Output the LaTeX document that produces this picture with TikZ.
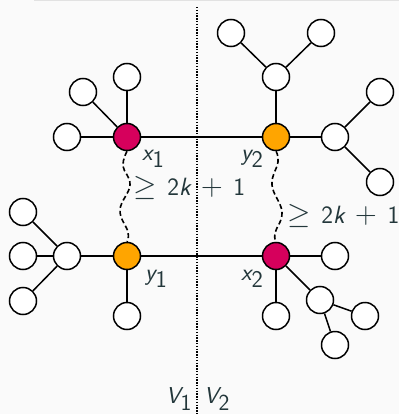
\RequirePackage{fix-cm}
\documentclass[tikz,border=0pt]{standalone}
\usepackage{fontspec}
\definecolor{bgc}{RGB}{250,250,250}
\definecolor{rulec}{RGB}{226,226,226}
\definecolor{txtc}{RGB}{35,55,59}
\definecolor{magc}{RGB}{214,0,92}
\definecolor{orc}{RGB}{255,165,0}
\newcommand\sv[1]{\mbox{\sffamily\itshape #1}}
\newcommand\sn[1]{\mbox{\sffamily #1}}
\newcommand\lt[1]{\mbox{\fontsize{25}{30}\selectfont\sffamily #1}}
\newcommand\glabel{$\geq\hspace{2pt} \lt{2\itshape k}\hspace{4pt} + \hspace{4pt}\lt{1}$}
\begin{document}
\begin{tikzpicture}[x=1pt,y=-1pt,
  vtx/.style={circle,draw=black,line width=1.5pt,fill=white,minimum size=27pt,inner sep=0pt},
  mvtx/.style={vtx,fill=magc},
  ovtx/.style={vtx,fill=orc},
  edge/.style={line width=1.5pt,black},
  wav/.style={line width=1.6pt,black,dash pattern=on 5pt off 3pt},
  lbl/.style={text=txtc,inner sep=0pt,anchor=base west,font=\fontsize{24}{28}\selectfont\sffamily},
  blbl/.style={lbl,font=\fontsize{30}{34}\selectfont\sffamily},
  vlbl/.style={lbl,font=\fontsize{23}{27}\selectfont\sffamily}]
\fill[bgc] (0,0) rectangle (399,414);
\useasboundingbox (0,0) rectangle (399,414);
\draw[rulec,line width=1pt] (34,0.5) -- (399,0.5);
\coordinate (dt) at (197,7);
\coordinate (db) at (197,414);
\draw[black,line width=1.6pt,dash pattern=on 1.4pt off 1.4pt] (dt) -- (db);
% main vertices
\node[mvtx] (x1) at (127,137) {};
\node[ovtx] (y2) at (276,137) {};
\node[ovtx] (y1) at (127,256) {};
\node[mvtx] (x2) at (276,256) {};
% x1 leaves
\node[vtx] (a1) at (67,137) {};
\node[vtx] (a2) at (83,92) {};
\node[vtx] (a3) at (127,77) {};
% y2 subtree
\node[vtx] (b1) at (276,77) {};
\node[vtx] (b11) at (231,33) {};
\node[vtx] (b12) at (321,33) {};
\node[vtx] (b2) at (335,137) {};
\node[vtx] (b21) at (380,92) {};
\node[vtx] (b22) at (380,182) {};
% y1 subtree
\node[vtx] (c1) at (67,256) {};
\node[vtx] (c11) at (23,212) {};
\node[vtx] (c12) at (23,256) {};
\node[vtx] (c13) at (23,301) {};
\node[vtx] (c2) at (127,316) {};
% x2 subtree
\node[vtx] (d1) at (335,256) {};
\node[vtx] (d2) at (276,316) {};
\node[vtx] (d3) at (320,300) {};
\node[vtx] (d31) at (365,316) {};
\node[vtx] (d32) at (335,345) {};
% edges
\draw[edge] (x1) -- (y2);
\draw[edge] (y1) -- (x2);
\draw[edge] (x1) -- (a1);
\draw[edge] (x1) -- (a2);
\draw[edge] (x1) -- (a3);
\draw[edge] (y2) -- (b1);
\draw[edge] (b1) -- (b11);
\draw[edge] (b1) -- (b12);
\draw[edge] (y2) -- (b2);
\draw[edge] (b2) -- (b21);
\draw[edge] (b2) -- (b22);
\draw[edge] (y1) -- (c1);
\draw[edge] (c1) -- (c11);
\draw[edge] (c1) -- (c12);
\draw[edge] (c1) -- (c13);
\draw[edge] (y1) -- (c2);
\draw[edge] (x2) -- (d1);
\draw[edge] (x2) -- (d2);
\draw[edge] (x2) -- (d3);
\draw[edge] (d3) -- (d31);
\draw[edge] (d3) -- (d32);
% wavy paths
\draw[wav] plot[smooth,tension=0.7] coordinates {(x1.south) (123,166) (130,185) (120,210) (128,232) (y1.north)};
\draw[wav] plot[smooth,tension=0.7] coordinates {(y2.south) (278,162) (272,185) (282,212) (275,233) (x2.north)};
% labels
\node[lbl] (lx1) at (142,160) {$\sv{x}_{\sn{1}}$};
\node[lbl] (ly2) at (241,160) {$\sv{y}_{\sn{2}}$};
\node[lbl] (ly1) at (145,280) {$\sv{y}_{\sn{1}}$};
\node[lbl] (lx2) at (241,280) {$\sv{x}_{\sn{2}}$};
\node[blbl] (d1l) at (133.5,195) {\glabel};
\node[blbl] (d2l) at (287.5,223) {\glabel};
\node[vlbl] (v1) at (166,403) {$\sv{V}_{\sn{1}}$};
\node[vlbl] (v2) at (204,403) {$\sv{V}_{\sn{2}}$};
\end{tikzpicture}
\end{document}
